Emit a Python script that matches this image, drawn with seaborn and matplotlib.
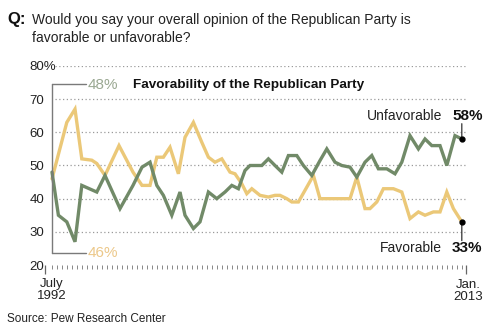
import matplotlib
matplotlib.use("Agg")
import matplotlib.pyplot as plt
import seaborn as sns
import numpy as np
import pandas as pd
from matplotlib.lines import Line2D

# ---- data ----
unfav_years = [1992.50, 1992.82, 1993.24, 1993.65, 1993.99, 1994.74, 1995.15, 1995.90,
               1996.55, 1997.00, 1997.40, 1997.74, 1998.07, 1998.49, 1998.90, 1999.15,
               1999.57, 1999.90, 2000.32, 2000.74, 2001.15, 2001.49, 2001.82, 2002.15,
               2002.40, 2002.99, 2003.32, 2003.65, 2003.99, 2004.32, 2004.74, 2005.07,
               2005.49, 2005.90, 2006.24, 2006.65, 2006.99, 2007.40, 2007.74, 2008.15,
               2008.49, 2008.82, 2009.24, 2009.65, 2009.99, 2010.40, 2010.82, 2011.15,
               2011.49, 2011.90, 2012.24, 2012.65, 2012.99]
unfav_values = [48, 35, 33, 27, 44, 42, 47, 37,
                44, 49.5, 51, 44, 41, 35, 42, 35,
                31, 33, 42, 40, 42, 44, 43, 48.5,
                50, 50, 52, 50, 48, 53, 53, 50,
                47, 51.5, 55, 51, 50, 49.5, 46.5, 51,
                53, 49, 49, 47.5, 51, 59, 55, 58,
                56, 56, 50, 59, 58]

fav_years = [1992.50, 1993.24, 1993.65, 1993.99, 1994.49, 1994.74, 1995.15, 1995.85,
             1996.55, 1997.00, 1997.40, 1997.74, 1998.07, 1998.40, 1998.82, 1999.15,
             1999.57, 1999.99, 2000.32, 2000.65, 2000.99, 2001.40, 2001.65, 2001.99,
             2002.24, 2002.49, 2002.90, 2003.32, 2003.65, 2003.90, 2004.24, 2004.49,
             2004.82, 2005.57, 2005.90, 2007.40, 2007.74, 2008.15, 2008.40, 2008.74,
             2009.07, 2009.57, 2009.99, 2010.40, 2010.82, 2011.15, 2011.57, 2011.90,
             2012.24, 2012.57, 2012.99]
fav_values = [46, 63, 67, 52, 51.6, 50.6, 47, 56,
              48, 44, 44, 52.5, 52.5, 55.5, 47.5, 58.5,
              63, 57, 52.5, 51, 52, 48, 47.5, 44.5,
              41.5, 43, 41, 40.5, 41, 41, 40, 39,
              39, 47, 40, 40, 46.5, 37, 37, 39,
              43, 43, 42, 34, 36, 35, 36, 36,
              42, 37, 33]

y_ticks = [20, 30, 40, 50, 60, 70, 80]
y_tick_labels = ["20", "30", "40", "50", "60", "70", "80%"]
x_labels = ["July\n1992", "Jan.\n2013"]

GREEN = "#718a68"
YELLOW = "#ebc878"
TEXT = "#222222"

sns.set_style("white")
FONT = ["Liberation Sans Narrow", "Liberation Sans", "DejaVu Sans"]
plt.rcParams["font.family"] = FONT

W, H = 500, 327
fig = plt.figure(figsize=(W / 100, H / 100), dpi=100)

def fx(px):
    return px / W

def fy(py):
    return 1 - py / H

ax_left, ax_right, ax_top, ax_bottom = 45, 466, 66, 265
ax = fig.add_axes([fx(ax_left), fy(ax_bottom), (ax_right - ax_left) / W, (ax_bottom - ax_top) / H])

xmin = 1992.5 + (ax_left - 52) / 20
xmax = 1992.5 + (ax_right - 52) / 20
ax.set_xlim(xmin, xmax)
ax.set_ylim(20, 80)

# gridlines
for v in y_ticks[1:]:
    ax.axhline(v, xmin=0.024, xmax=1.0, color="#9a9a9a", lw=0.9, ls=(0, (1, 2)), zorder=1)

unfav_df = pd.DataFrame({"year": unfav_years, "value": unfav_values})
fav_df = pd.DataFrame({"year": fav_years, "value": fav_values})
sns.lineplot(data=fav_df, x="year", y="value", ax=ax, color=YELLOW, lw=2.4, zorder=3,
             solid_joinstyle="miter")
sns.lineplot(data=unfav_df, x="year", y="value", ax=ax, color=GREEN, lw=2.4, zorder=4,
             solid_joinstyle="miter")

for s in ax.spines.values():
    s.set_visible(False)

ax.set_xlabel("")
ax.set_ylabel("")
ax.set_yticks(y_ticks)
ax.set_yticklabels(y_tick_labels)
ax.tick_params(axis="y", length=0, pad=11, labelsize=9.5, labelcolor=TEXT)
for lab in ax.get_yticklabels():
    lab.set_horizontalalignment("left")

# x ticks: quarterly minor, ends major
ax.set_xticks([xmin + 0.02, xmax - 0.02])
ax.set_xticklabels(["", ""])
ax.set_xticks(np.arange(1992.5, 2013.01, 0.25), minor=True)
ax.tick_params(axis="x", which="both", bottom=True, top=False)
ax.tick_params(axis="x", which="major", length=6.5, width=0.9, color="#666666", direction="out")
ax.tick_params(axis="x", which="minor", length=3, width=0.7, color="#888888", direction="out")

# end markers and leaders
last_u = (unfav_years[-1], unfav_values[-1])
last_f = (fav_years[-1], fav_values[-1])
ax.plot([last_u[0]], [last_u[1]], "o", color="black", ms=3.5, zorder=6)
ax.plot([last_f[0]], [last_f[1]], "o", color="black", ms=3.5, zorder=6)
ax.annotate("", xy=last_u, xytext=(0, 11), textcoords="offset points",
            arrowprops=dict(arrowstyle="-", color="#333333", lw=0.9, shrinkA=0, shrinkB=0))
ax.annotate("", xy=last_f, xytext=(0, -13.5), textcoords="offset points",
            arrowprops=dict(arrowstyle="-", color="#333333", lw=0.9, shrinkA=0, shrinkB=0))

# texts
fig.text(fx(7), fy(24), "Q:", fontsize=12, fontweight="bold", color="#111111", va="baseline",
         family=["Liberation Sans", "DejaVu Sans"])
fig.text(fx(32), fy(24), "Would you say your overall opinion of the Republican Party is",
         fontsize=10, color=TEXT, va="baseline")
fig.text(fx(32), fy(42.5), "favorable or unfavorable?", fontsize=10, color=TEXT, va="baseline")

fig.text(fx(133), fy(88), "Favorability of the Republican Party", fontsize=9.7,
         fontweight="bold", color="#111111", va="baseline", family=["Liberation Sans", "DejaVu Sans"])

fig.text(fx(88), fy(89), f"{unfav_values[0]}%", fontsize=11, color="#9aa892", va="baseline")
fig.text(fx(88), fy(257), f"{fav_values[0]}%", fontsize=11, color="#ecc88a", va="baseline")

# bracket
bracket_color = "#7a7a7a"
fig.add_artist(Line2D([fx(52), fx(52)], [fy(84), fy(253)], color=bracket_color, lw=1.0, zorder=2))
fig.add_artist(Line2D([fx(52), fx(86)], [fy(84), fy(84)], color=bracket_color, lw=1.0))
fig.add_artist(Line2D([fx(52), fx(86)], [fy(253), fy(253)], color=bracket_color, lw=1.0))

fig.text(fx(442), fy(120), "Unfavorable", fontsize=10, color=TEXT, va="baseline", ha="right")
fig.text(fx(452), fy(120), f"{unfav_values[-1]:.0f}%", fontsize=11, fontweight="bold",
         color="#111111", va="baseline", family=["Liberation Sans", "DejaVu Sans"])
fig.text(fx(442), fy(252), "Favorable", fontsize=10, color=TEXT, va="baseline", ha="right")
fig.text(fx(452), fy(252), f"{fav_values[-1]:.0f}%", fontsize=11, fontweight="bold",
         color="#111111", va="baseline", family=["Liberation Sans", "DejaVu Sans"])

fig.text(fx(52), fy(299), x_labels[0], fontsize=9.5, color=TEXT, ha="center", va="baseline",
         linespacing=1.0, multialignment="center")
fig.text(fx(468), fy(300), x_labels[1], fontsize=9.5, color=TEXT, ha="center", va="baseline",
         linespacing=1.0, multialignment="center")

fig.text(fx(7), fy(321.5), "Source: Pew Research Center", fontsize=8.5, color=TEXT, va="baseline")

fig.savefig("out.png", dpi=100)
